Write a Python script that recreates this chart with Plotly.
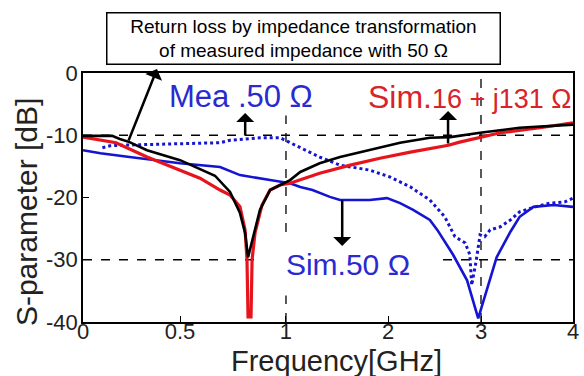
import numpy as np
import plotly.graph_objects as go

# ---- axis tick definitions (non-uniform frequency axis as in the reference) ----
TICK_GHZ = [0, 0.5, 1, 2, 3, 4]
TICK_TEXT = ["0", "0.5", "1", "2", "3", "4"]
TICK_POS = [0, 0.792, 1.657, 2.490, 3.249, 4.0]   # position of each tick along the axis
Y_TICKS = [0, -10, -20, -30, -40]
Y_TICK_TEXT = ["0", "-10", "-20", "-30", "-40"]
REF_X_GHZ = [1, 3]
REF_Y_DB = [-10, -30]

# ---- series (frequency in GHz, S-parameter in dB) ----
black_f = [0, 0.15, 0.19, 0.24, 0.33, 0.5, 0.665, 0.736, 0.783, 0.807, 0.821, 0.854,
           0.877, 0.925, 0.972, 1.04, 1.14, 1.33, 1.53, 1.82, 2.13, 2.45, 2.67, 2.99,
           3.42, 4.0]
black_db = [-10.1, -10.1, -10.6, -11.1, -12.4, -14.0, -16.5, -19.1, -22.5, -25.7, -29.6,
            -25.2, -22.0, -18.8, -18.0, -17.2, -15.9, -14.5, -13.5, -12.4, -11.2, -10.4,
            -10.3, -9.6, -8.8, -8.3]

red_f = [0, 0.09, 0.17, 0.33, 0.5, 0.594, 0.689, 0.736, 0.783, 0.807, 0.816, 0.821,
         0.835, 0.840, 0.854, 0.887, 0.925, 0.972, 1.04, 1.235, 1.33, 1.63, 1.92, 2.24,
         2.65, 2.77, 3.21, 3.64, 4.0]
red_db = [-10.3, -10.8, -11.2, -13.5, -15.7, -16.9, -18.8, -19.6, -21.5, -25.2, -30.0,
          -39.2, -39.2, -30.0, -25.7, -21.2, -18.8, -18.0, -17.7, -16.7, -16.1, -14.8,
          -13.7, -12.7, -11.6, -11.1, -9.6, -8.8, -8.0]

sim50_f = [0, 0.09, 0.24, 0.5, 0.689, 0.783, 0.925, 1.04, 1.14, 1.26, 1.43, 1.53, 1.82,
           1.99, 2.13, 2.27, 2.45, 2.53, 2.70, 2.85, 2.97, 3.07, 3.17, 3.32, 3.42, 3.57,
           3.79, 4.0]
sim50_db = [-12.4, -12.9, -13.5, -14.5, -15.1, -16.4, -17.2, -17.7, -18.3, -18.8, -19.9,
            -20.4, -20.4, -20.1, -20.9, -22.0, -23.6, -25.2, -29.2, -33.3, -39.4, -34.4,
            -29.6, -25.5, -23.1, -21.5, -21.2, -21.5]

mea50_f = [0.10, 0.14, 0.19, 0.45, 0.69, 0.736, 0.877, 0.972, 1.04, 1.14, 1.33, 1.53,
           1.82, 2.02, 2.24, 2.45, 2.61, 2.72, 2.83, 2.88, 2.90, 2.95, 2.99, 3.04, 3.10,
           3.21, 3.32, 3.42, 3.59, 3.75, 3.91, 4.0]
mea50_db = [-12.0, -11.7, -11.6, -11.4, -11.2, -10.8, -10.4, -10.4, -11.2, -12.0, -13.5,
            -14.8, -15.6, -16.7, -18.3, -20.4, -23.1, -26.3, -27.3, -29.2, -34.1, -30.0,
            -26.0, -26.3, -25.2, -24.7, -23.6, -22.3, -21.5, -20.9, -20.7, -20.1]


def fx(f):
    return np.interp(np.asarray(f, dtype=float), TICK_GHZ, TICK_POS)


FONT = "Liberation Sans, Arial, sans-serif"
BLUE = "#1414d2"
RED = "#e8141c"

fig = go.Figure()
fig.add_trace(go.Scatter(x=fx(mea50_f), y=mea50_db, mode="lines",
                         line=dict(color=BLUE, width=3, dash="dot"), name="Mea. 50"))
fig.add_trace(go.Scatter(x=fx(sim50_f), y=sim50_db, mode="lines",
                         line=dict(color=BLUE, width=2.6), name="Sim. 50"))
fig.add_trace(go.Scatter(x=fx(red_f), y=red_db, mode="lines",
                         line=dict(color=RED, width=3.2), name="Sim. 16+j131"))
fig.add_trace(go.Scatter(x=fx(black_f), y=black_db, mode="lines",
                         line=dict(color="black", width=2.6), name="Return loss"))

# dashed reference lines
for v in REF_Y_DB:
    fig.add_shape(type="line", xref="paper", x0=0, x1=1, y0=v, y1=v, yref="y",
                  line=dict(color="black", width=1.3, dash="dash"), layer="below")
for v in REF_X_GHZ:
    p = float(fx(v))
    fig.add_shape(type="line", xref="x", x0=p, x1=p, yref="paper", y0=0, y1=1,
                  line=dict(color="black", width=1.3, dash="dash"), layer="below")

C = dict(xanchor="center", yanchor="middle")
ann = []
# boxed title
ann.append(dict(xref="paper", yref="paper", x=0.451, y=1.137, showarrow=False,
                text="Return loss by impedance transformation<br>of measured impedance with 50 Ω",
                font=dict(family=FONT, size=19, color="black"),
                bordercolor="black", borderwidth=1.5, bgcolor="white",
                width=390, height=48, borderpad=1, align="center", **C))
# labels
ann.append(dict(xref="paper", yref="paper", x=0.322, y=0.905, showarrow=False,
                text="Mea .50 Ω", font=dict(family=FONT, size=31, color="#2a2ad0"),
                bgcolor="white", **C))
ann.append(dict(xref="paper", yref="paper", x=0.789, y=0.905, showarrow=False,
                text="Sim.<span style='font-size:27px'>16 + j131 Ω</span>",
                font=dict(family=FONT, size=32, color="#d8232a"), **C))
ann.append(dict(xref="paper", yref="paper", x=0.540, y=0.229, showarrow=False,
                text="Sim.50 Ω", font=dict(family=FONT, size=30, color="#2a2ad0"),
                bgcolor="white", borderpad=14, width=150, **C))
# arrows
for (x, y, ax, ay) in [(0.151, 1.016, -29, 73), (0.331, 0.839, 0, 24),
                       (0.745, 0.847, 0, 34), (0.529, 0.305, 0, -47)]:
    ann.append(dict(xref="paper", yref="paper", x=x, y=y, ax=ax, ay=ay,
                    showarrow=True, arrowhead=1, arrowsize=1.2, arrowwidth=2.5,
                    arrowcolor="black", text=""))
# axis titles
ann.append(dict(xref="paper", yref="paper", x=0.518, y=-0.156, showarrow=False,
                text="Frequency[GHz]", font=dict(family=FONT, size=29, color="#222"), **C))
ann.append(dict(xref="paper", yref="paper", x=-0.114, y=0.442, showarrow=False,
                text="S-parameter [dB]", textangle=-90,
                font=dict(family=FONT, size=30, color="#222"), **C))

fig.update_layout(
    width=584, height=376,
    margin=dict(l=83, r=11, t=73, b=54),
    paper_bgcolor="white", plot_bgcolor="white",
    showlegend=False,
    annotations=ann,
    font=dict(family=FONT, color="#222"),
)
fig.update_xaxes(range=[0, 4], tickvals=TICK_POS, ticktext=TICK_TEXT,
                 showgrid=False, zeroline=False, showline=True, linecolor="black",
                 linewidth=1.5, mirror=True, ticks="inside", ticklen=6,
                 tickcolor="black", tickfont=dict(family=FONT, size=22, color="#222"),
                 ticklabelstandoff=-11, automargin=False)
fig.update_yaxes(range=[-40, 0], tickvals=Y_TICKS, ticktext=Y_TICK_TEXT,
                 showgrid=False, zeroline=False, showline=True, linecolor="black",
                 linewidth=1.5, mirror=True, ticks="inside", ticklen=6,
                 tickcolor="black", tickfont=dict(family=FONT, size=22, color="#222"),
                 ticklabelstandoff=-1, automargin=False)

fig.write_html("out.html")
